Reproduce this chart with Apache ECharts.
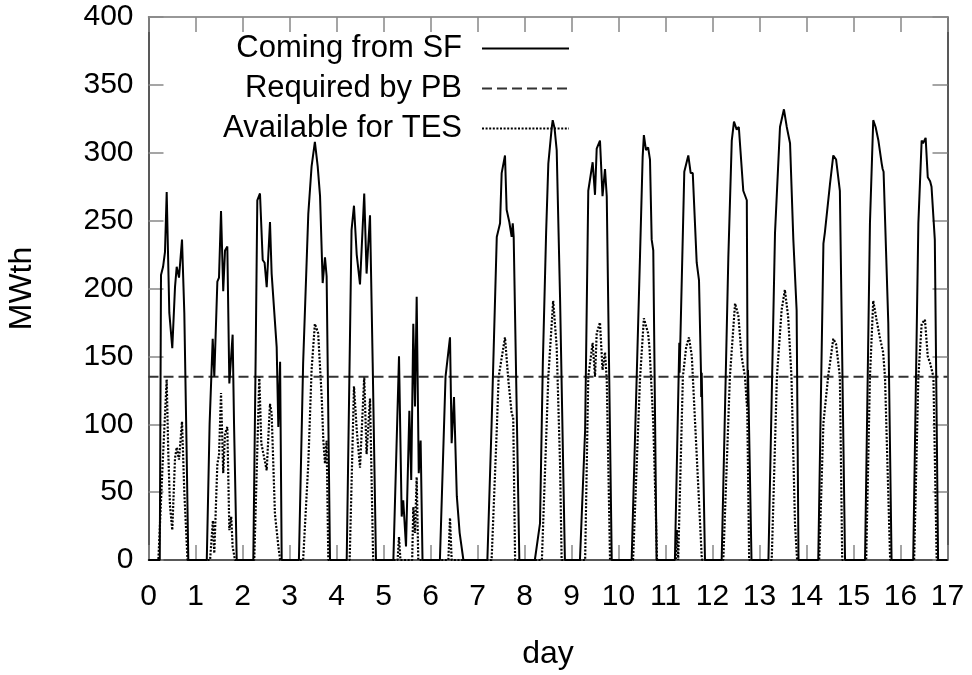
<!DOCTYPE html>
<html><head><meta charset="utf-8">
<script src="https://cdn.jsdelivr.net/npm/echarts@6/dist/echarts.min.js"></script>
<style>html,body{margin:0;padding:0;background:#fff}#c{width:972px;height:675px}</style>
</head><body><div id="c"></div>
<script>
// [day, MWth]
const comingFromSF = [
  [0,0],[0.24,0],[0.266,210],[0.31,216],[0.351,227],[0.387,271],[0.443,182],[0.506,156],[0.564,201],[0.6,216],[0.649,208],[0.713,236],[0.762,182],[0.81,83],[0.847,0],
  [1.24,0],[1.30,100],[1.366,163],[1.40,135],[1.465,205],[1.5,208],[1.543,257],[1.59,198],[1.628,228],[1.677,231],[1.72,130],[1.79,166],[1.82,100],[1.877,0],
  [2.23,0],[2.28,150],[2.315,265],[2.372,270],[2.43,221],[2.47,219],[2.515,201],[2.585,249],[2.62,211],[2.727,157],[2.762,98],[2.8,146],[2.834,0],
  [3.2,0],[3.29,145],[3.40,255],[3.47,290],[3.54,308],[3.6,290],[3.65,268],[3.706,204],[3.755,223],[3.79,209],[3.862,0],
  [4.217,0],[4.32,243],[4.372,261],[4.43,225],[4.5,203],[4.59,270],[4.64,211],[4.713,254],[4.77,145],[4.84,0],
  [5.21,0],[5.33,150],[5.387,32],[5.42,44],[5.479,10],[5.55,110],[5.59,59],[5.634,174],[5.67,113],[5.706,194],[5.75,64],[5.79,88],[5.83,0],
  [6.2,0],[6.32,135],[6.415,164],[6.45,86],[6.5,120],[6.56,47],[6.62,20],[6.7,0],
  [7.21,0],[7.30,100],[7.41,238],[7.48,248],[7.514,285],[7.585,298],[7.62,258],[7.677,249],[7.727,238],[7.75,248],[7.77,238],[7.89,0],
  [8.22,0],[8.33,27],[8.39,145],[8.46,241],[8.507,292],[8.578,318],[8.60,324],[8.64,318],[8.685,302],[8.756,194],[8.86,0],
  [9.18,0],[9.29,96],[9.357,272],[9.45,293],[9.5,269],[9.536,303],[9.606,309],[9.66,268],[9.713,288],[9.75,268],[9.856,0],
  [10.28,0],[10.457,223],[10.514,297],[10.54,313],[10.585,302],[10.63,304],[10.67,295],[10.706,236],[10.74,228],[10.81,0],
  [11.2,0],[11.294,160],[11.30,138],[11.4,286],[11.485,298],[11.536,285],[11.58,285],[11.664,219],[11.713,206],[11.755,138],[11.76,120],[11.77,138],[11.84,0],
  [12.195,0],[12.337,223],[12.41,309],[12.457,323],[12.515,317],[12.56,319],[12.655,272],[12.73,265],[12.745,145],[12.75,113],[12.755,140],[12.83,0],
  [13.19,0],[13.33,241],[13.436,319],[13.52,332],[13.545,332],[13.58,319],[13.65,307],[13.72,236],[13.79,184],[13.83,0],
  [14.25,0],[14.36,233],[14.39,241],[14.5,277],[14.57,298],[14.63,295],[14.67,296],[14.71,272],[14.82,0],
  [15.245,0],[15.35,248],[15.42,324],[15.47,319],[15.53,309],[15.6,292],[15.62,288],[15.64,286],[15.74,175],[15.81,0],
  [16.27,0],[16.38,248],[16.45,309],[16.48,307],[16.535,311],[16.58,282],[16.63,279],[16.66,275],[16.73,236],[16.8,0],[17,0]
];
const requiredByPB = [[0,135],[17,135]];
const availableForTES = [
  [0,0],[0.21,0],[0.3,70],[0.387,133],[0.42,80],[0.457,40],[0.506,22],[0.564,75],[0.6,83],[0.649,74],[0.713,102],[0.762,50],[0.83,0],
  [1.31,0],[1.37,29],[1.40,5],[1.465,71],[1.5,77],[1.543,123],[1.59,64],[1.628,93],[1.677,98],[1.72,22],[1.76,32],[1.79,10],[1.84,0],
  [2.25,0],[2.358,135],[2.40,86],[2.515,66],[2.585,115],[2.62,108],[2.69,34],[2.76,11],[2.80,0],
  [3.29,0],[3.40,71],[3.47,140],[3.54,174],[3.61,167],[3.685,120],[3.72,88],[3.755,71],[3.79,88],[3.826,0],
  [4.28,0],[4.372,128],[4.43,96],[4.5,68],[4.59,135],[4.64,78],[4.713,119],[4.78,0],
  [5.30,0],[5.33,17],[5.36,0],[5.61,0],[5.634,39],[5.67,20],[5.706,61],[5.74,0],
  [6.38,0],[6.415,31],[6.45,0],
  [7.30,0],[7.41,96],[7.45,135],[7.585,164],[7.655,133],[7.727,108],[7.76,105],[7.80,0],
  [8.37,0],[8.507,135],[8.61,191],[8.685,157],[8.756,71],[8.79,0],
  [9.29,0],[9.357,135],[9.45,160],[9.5,135],[9.536,167],[9.606,175],[9.66,140],[9.713,153],[9.75,133],[9.82,0],
  [10.31,0],[10.457,133],[10.54,178],[10.63,167],[10.66,156],[10.74,101],[10.8,27],[10.82,0],
  [11.22,0],[11.24,22],[11.27,0],[11.3,0],[11.37,135],[11.44,157],[11.5,164],[11.56,150],[11.63,101],[11.70,52],[11.77,3],[11.78,0],
  [12.23,0],[12.37,135],[12.48,189],[12.55,180],[12.62,150],[12.69,135],[12.74,110],[12.78,0],
  [13.26,0],[13.37,135],[13.47,184],[13.54,199],[13.61,179],[13.68,135],[13.755,27],[13.8,0],
  [14.27,0],[14.36,101],[14.46,135],[14.57,163],[14.63,159],[14.66,150],[14.71,135],[14.76,0],
  [15.27,0],[15.35,135],[15.42,191],[15.49,177],[15.56,164],[15.63,153],[15.67,135],[15.78,0],
  [16.29,0],[16.38,135],[16.45,174],[16.52,177],[16.58,150],[16.63,145],[16.70,135],[16.77,0],[17,0]
];
const seriesNames = ['Coming from SF','Required by PB','Available for TES'];
const xTicks = {min:0, max:17, interval:1};
const yTicks = {min:0, max:400, interval:50};

const FONT = 'Liberation Sans, Arial, sans-serif';
const chart = echarts.init(document.getElementById('c'), null, {renderer:'canvas'});
const tickStyle = {show:true, inside:true, length:15, lineStyle:{color:'#888', width:1.5}};
chart.setOption({
  animation:false,
  backgroundColor:'#fff',
  textStyle:{fontFamily:FONT},
  grid:{left:148.5, right:24.5, top:17, bottom:115, containLabel:false, outerBoundsMode:'none'},
  legend:{
    orient:'vertical', align:'right', right:402, top:33, padding:0,
    itemWidth:87, itemHeight:14, itemGap:9, selectedMode:false,
    itemStyle:{opacity:0, borderWidth:0},
    textStyle:{fontSize:31, fontFamily:FONT, color:'#000', lineHeight:30, padding:[0,15,0,0]},
    data:seriesNames
  },
  xAxis:[{
    type:'value', min:xTicks.min, max:xTicks.max, interval:xTicks.interval, position:'bottom',
    name:'day', nameLocation:'middle', nameGap:78,
    nameTextStyle:{fontSize:32, fontFamily:FONT, color:'#000'},
    axisLine:{show:true, onZero:false, lineStyle:{color:'#222', width:1.5}},
    axisTick:tickStyle,
    axisLabel:{fontSize:30, fontFamily:FONT, color:'#000', margin:22},
    splitLine:{show:false}
  },{
    type:'value', min:xTicks.min, max:xTicks.max, interval:xTicks.interval, position:'top',
    axisLine:{show:true, onZero:false, lineStyle:{color:'#777', width:1.5}},
    axisTick:tickStyle, axisLabel:{show:false}, splitLine:{show:false}
  }],
  yAxis:[{
    type:'value', min:yTicks.min, max:yTicks.max, interval:yTicks.interval, position:'left',
    name:'MWth', nameLocation:'middle', nameGap:110, nameRotate:90,
    nameTextStyle:{fontSize:32, fontFamily:FONT, color:'#000'},
    axisLine:{show:true, onZero:false, lineStyle:{color:'#222', width:1.5}},
    axisTick:tickStyle,
    axisLabel:{fontSize:30, fontFamily:FONT, color:'#000', margin:15},
    splitLine:{show:false}
  },{
    type:'value', min:yTicks.min, max:yTicks.max, interval:yTicks.interval, position:'right',
    axisLine:{show:true, onZero:false, lineStyle:{color:'#222', width:1.5}},
    axisTick:tickStyle, axisLabel:{show:false}, splitLine:{show:false}
  }],
  series:[
    {name:seriesNames[0], type:'line', data:comingFromSF, symbol:'none', xAxisIndex:0, yAxisIndex:0,
     lineStyle:{color:'#000', width:2}, itemStyle:{color:'#000'}, z:4},
    {name:seriesNames[1], type:'line', data:requiredByPB, symbol:'none', xAxisIndex:0, yAxisIndex:0,
     lineStyle:{color:'#333', width:2, type:[10,5]}, itemStyle:{color:'#333'}, z:3},
    {name:seriesNames[2], type:'line', data:availableForTES, symbol:'none', xAxisIndex:0, yAxisIndex:0,
     lineStyle:{color:'#000', width:2.2, type:[2,1.6]}, itemStyle:{color:'#000'}, z:2}
  ]
});
</script></body></html>
